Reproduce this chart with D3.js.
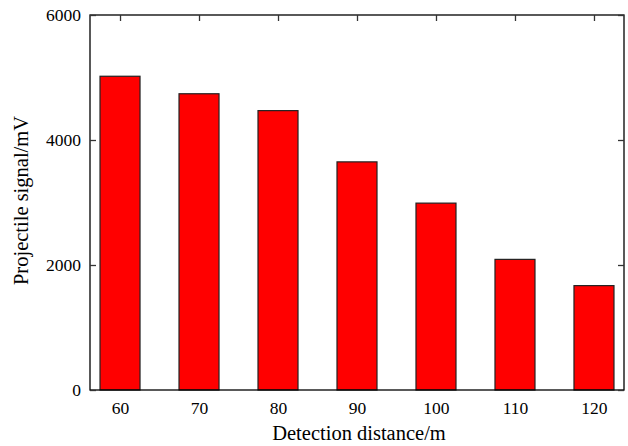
<!DOCTYPE html>
<html><head><meta charset="utf-8">
<script src="https://cdn.jsdelivr.net/npm/d3@7"></script>
<style>body{margin:0;background:#fff}svg{display:block}</style>
</head><body><svg id="c" width="628" height="446"></svg>
<script>
const categories = ["60","70","80","90","100","110","120"];
const values = [5020, 4740, 4470, 3650, 2990, 2090, 1670];
const yTicks = [0, 2000, 4000, 6000];
const xTitle = "Detection distance/m";
const yTitle = "Projectile signal/mV";

const svg = d3.select("#c");
const L = 90, R = 624, T = 15, B = 390;
const x = d3.scalePoint().domain(categories).range([L, R]).padding(0.38);
const y = d3.scaleLinear().domain([0, 6000]).range([B, T]);
const bw = 40;
const font = "'Liberation Serif', 'Times New Roman', serif";

svg.append("g").selectAll("rect").data(values).join("rect")
  .attr("x", (d, i) => x(categories[i]) - bw / 2)
  .attr("y", d => y(d))
  .attr("width", bw)
  .attr("height", d => B - y(d))
  .attr("fill", "#ff0000")
  .attr("stroke", "#222")
  .attr("stroke-width", 1.2);

// frame
svg.append("rect").attr("x", L).attr("y", T).attr("width", R - L).attr("height", B - T)
  .attr("fill", "none").attr("stroke", "#000").attr("stroke-width", 1.3);

// axes
const ax = svg.append("g").attr("transform", `translate(0,${B})`)
  .call(d3.axisBottom(x).tickSize(0).tickPadding(12));
ax.select(".domain").remove();
ax.selectAll("text").attr("font-family", font).attr("font-size", 17.5).attr("fill", "#000");

const ay = svg.append("g").attr("transform", `translate(${L},0)`)
  .call(d3.axisLeft(y).tickValues(yTicks).tickFormat(d3.format("d")).tickSize(-6).tickPadding(9));
ay.select(".domain").remove();
ay.selectAll("line").attr("stroke", "#333").attr("stroke-width", 1.3);
ay.selectAll("text").attr("font-family", font).attr("font-size", 17.5).attr("fill", "#000");

// mirrored ticks
const at = svg.append("g").attr("transform", `translate(0,${T})`)
  .call(d3.axisTop(x).tickSize(-6).tickFormat(""));
at.select(".domain").remove();
at.selectAll("line").attr("stroke", "#333").attr("stroke-width", 1.3);
const ar = svg.append("g").attr("transform", `translate(${R},0)`)
  .call(d3.axisRight(y).tickValues(yTicks).tickSize(-6).tickFormat(""));
ar.select(".domain").remove();
ar.selectAll("line").attr("stroke", "#333").attr("stroke-width", 1.3);

svg.append("text").attr("x", (L + R) / 2 + 2).attr("y", 440).attr("text-anchor", "middle")
  .attr("font-family", font).attr("font-size", 20.5).text(xTitle);
svg.append("text").attr("transform", `translate(28,${(T + B) / 2 - 2}) rotate(-90)`)
  .attr("text-anchor", "middle").attr("font-family", font).attr("font-size", 20.5).text(yTitle);
</script></body></html>
